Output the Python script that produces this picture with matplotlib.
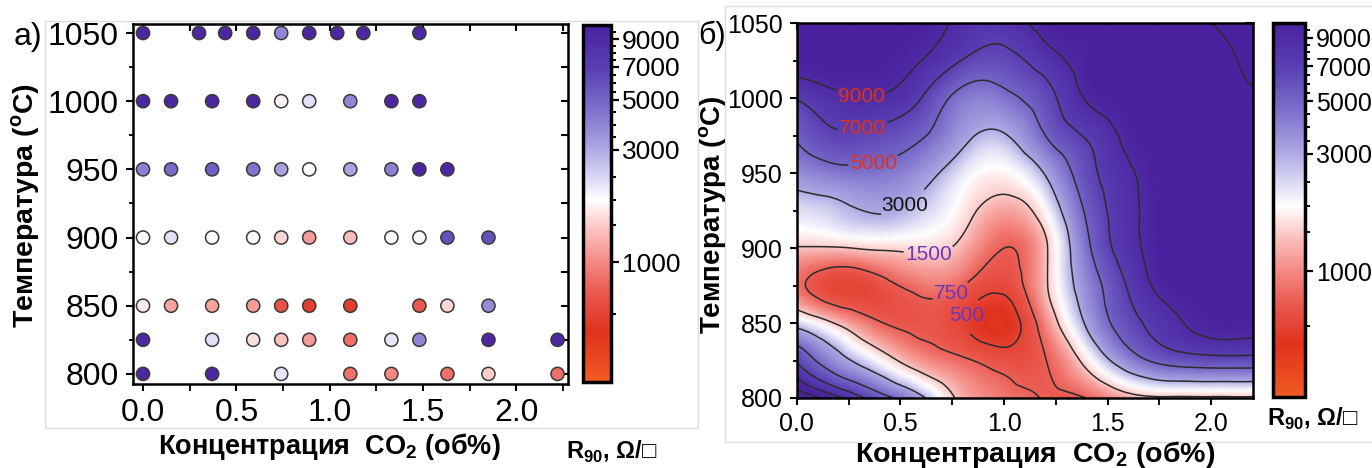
import numpy as np
import matplotlib
matplotlib.use('Agg')
import matplotlib.pyplot as plt
import matplotlib.tri as mtri
from matplotlib.colors import LinearSegmentedColormap, FuncNorm
from matplotlib.cm import ScalarMappable
from matplotlib.ticker import MultipleLocator, FixedLocator
from matplotlib.patches import Rectangle

# ---- а) measured points: CO2 (vol%), temperature (C), R90 (Ohm/sq) ----
conc = [0.0, 0.30, 0.44, 0.59, 0.74, 0.89, 1.04, 1.18, 1.48,
        0.0, 0.15, 0.37, 0.59, 0.74, 0.89, 1.11, 1.33, 1.48,
        0.0, 0.15, 0.37, 0.59, 0.74, 0.89, 1.11, 1.33, 1.48, 1.63,
        0.0, 0.15, 0.37, 0.59, 0.74, 0.89, 1.11, 1.33, 1.48, 1.63, 1.85,
        0.0, 0.15, 0.37, 0.59, 0.74, 0.89, 1.11, 1.48, 1.63, 1.85,
        0.0, 0.37, 0.59, 0.74, 0.89, 1.11, 1.33, 1.48, 1.85, 2.22,
        0.0, 0.37, 0.74, 1.11, 1.33, 1.63, 1.85, 2.22]
temp = [1050]*9 + [1000]*9 + [950]*10 + [900]*11 + [850]*10 + [825]*10 + [800]*8
r90 = [9500, 9500, 9500, 9500, 4000, 9500, 9500, 9500, 9500,
       9500, 9500, 9500, 9500, 1900, 2400, 4000, 9500, 9500,
       4200, 4800, 5200, 4500, 3200, 2000, 3200, 4200, 9500, 9500,
       2050, 2400, 2100, 2050, 1600, 1150, 1400, 2050, 2050, 6000, 6000,
       1800, 1200, 1200, 1150, 650, 480, 480, 700, 1600, 3800,
       9500, 2400, 1700, 1450, 1150, 850, 2300, 4000, 9500, 9500,
       9500, 9500, 2300, 850, 1000, 850, 1500, 850]

# ---- б) fitted surface on a grid (rows = temperature) ----
grid_conc = [0.0, 0.2, 0.4, 0.6, 0.8, 1.0, 1.2, 1.4, 1.6, 1.8, 2.0, 2.2]
grid_temp = [800, 825, 850, 875, 900, 925, 950, 975, 1000, 1025, 1050]
grid_r90 = [
    [13000, 9500, 5800, 3300, 1300, 900, 730, 760, 1250, 1400, 1400, 1400],
    [6800, 3600, 2000, 1100, 800, 620, 740, 1800, 4000, 5700, 6200, 6200],
    [2500, 1400, 780, 660, 520, 400, 1000, 3200, 6200, 8400, 9800, 9800],
    [900, 520, 620, 880, 760, 560, 1400, 3900, 7200, 10000, 10500, 10500],
    [1450, 1450, 1600, 1650, 1300, 750, 1400, 4600, 8200, 10300, 10500, 10500],
    [2400, 2700, 3100, 2600, 1800, 1200, 2000, 5300, 8400, 10300, 10500, 10500],
    [3700, 4400, 4500, 3600, 2300, 1900, 3100, 6200, 8700, 10500, 10500, 10500],
    [5200, 6700, 6300, 5200, 3400, 2900, 5000, 7200, 9600, 10500, 10500, 10500],
    [7100, 8600, 8800, 7000, 4400, 4500, 6200, 9200, 10300, 10500, 10500, 10800],
    [10300, 10300, 10000, 9000, 6900, 6300, 8000, 9800, 10400, 10500, 10500, 11500],
    [10300, 10300, 10000, 10000, 8400, 8000, 9800, 10300, 10500, 10500, 11000, 12000],
]
levels_red = [5000, 7000, 9000]
levels_black = [3000]
levels_violet = [500, 750, 1500]
levels_plain = [11000]

# colour scale as drawn on the colour bars (value -> bar position)
scale_vals = [150, 500, 1000, 1500, 2000, 2500, 3000, 5000, 7000, 9000, 10000]
scale_pos = [0.0, 0.19, 0.335, 0.44, 0.51, 0.575, 0.65, 0.79, 0.883, 0.96, 1.0]
cbar_ticks = [1000, 3000, 5000, 7000, 9000]
cbar_minor = [500, 1500, 2000, 2500, 3500, 4000, 4500, 5500, 6000, 6500,
              7500, 8000, 8500, 9500]

cmap = LinearSegmentedColormap.from_list('rw_purple', [
    (0.00, '#f15a22'), (0.14, '#e0321d'), (0.25, '#ea5a50'), (0.34, '#f48c86'),
    (0.43, '#fac4c2'), (0.51, '#ffffff'), (0.58, '#d6d4f2'), (0.66, '#aaa4e2'),
    (0.77, '#7b6ecb'), (0.88, '#5a3fb3'), (1.00, '#4a229f')])

norm = FuncNorm((lambda v: np.interp(v, scale_vals, scale_pos),
                 lambda p: np.interp(p, scale_pos, scale_vals)),
                vmin=scale_vals[0], vmax=scale_vals[-1])

plt.rcParams['font.family'] = ['Liberation Sans', 'DejaVu Sans']
plt.rcParams['mathtext.fontset'] = 'custom'
plt.rcParams['mathtext.rm'] = 'Liberation Sans'
plt.rcParams['mathtext.bf'] = 'Liberation Sans:bold'

fig = plt.figure(figsize=(13.72, 4.68), dpi=100)

# light frames around the two panels
fig.add_artist(Rectangle((45/1372, 1-428/468), 653/1372, 407/468, transform=fig.transFigure,
                         fill=False, ec='#dcdcdc', lw=1))
fig.add_artist(Rectangle((725/1372, 1-442/468), 650/1372, 436/468, transform=fig.transFigure,
                         fill=False, ec='#dcdcdc', lw=1))

ax1 = fig.add_axes([0.0969, 0.1795, 0.3171, 0.7692])
cax1 = fig.add_axes([0.4249, 0.1838, 0.0204, 0.7628])
ax2 = fig.add_axes([0.5807, 0.1496, 0.3324, 0.8006])
cax2 = fig.add_axes([0.9276, 0.1524, 0.0235, 0.7991])

# ---------- panel а ----------
ax1.scatter(conc, temp, c=r90, cmap=cmap, norm=norm, s=90, edgecolors='#3a3a3a',
            linewidths=1.1, zorder=3, clip_on=False)
ax1.set_xlim(-0.054, 2.276)
ax1.set_ylim(792.6, 1056.6)

# ---------- panel б ----------
gx, gt = np.meshgrid(grid_conc, grid_temp)
dc = grid_conc[1] - grid_conc[0]
dt = grid_temp[1] - grid_temp[0]
nt, nc = gx.shape
idx = np.arange(nt * nc).reshape(nt, nc)
a, b = idx[:-1, :-1].ravel(), idx[:-1, 1:].ravel()
c, d = idx[1:, 1:].ravel(), idx[1:, :-1].ravel()
tris = np.concatenate([np.column_stack([a, b, c]), np.column_stack([a, c, d])])
tri = mtri.Triangulation(gx.ravel() / dc, (gt.ravel() - grid_temp[0]) / dt, tris)
tri_f, logr_f = mtri.UniformTriRefiner(tri).refine_field(
    np.log10(np.array(grid_r90, dtype=float)).ravel(), subdiv=4)
tri_d = mtri.Triangulation(tri_f.x * dc, tri_f.y * dt + grid_temp[0], tri_f.triangles)
r_f = 10 ** logr_f

ax2.tripcolor(tri_d, r_f, shading='gouraud', cmap=cmap, norm=norm, rasterized=True)
line_kw = dict(colors='#2c2c2c', linewidths=1.1)
cs_red = ax2.tricontour(tri_d, r_f, levels=levels_red, **line_kw)
cs_black = ax2.tricontour(tri_d, r_f, levels=levels_black, **line_kw)
cs_violet = ax2.tricontour(tri_d, r_f, levels=levels_violet, **line_kw)
ax2.tricontour(tri_d, r_f, levels=levels_plain, **line_kw)
labels = []
labels += ax2.clabel(cs_red, colors='#e0321c', fontsize=15, fmt='%d',
                     manual=[(0.31, 1000), (0.32, 978), (0.37, 957)], inline_spacing=2)
labels += ax2.clabel(cs_black, colors='#111111', fontsize=15, fmt='%d',
                     manual=[(0.56, 920)], inline_spacing=2)
labels += ax2.clabel(cs_violet, colors='#6a38b8', fontsize=15, fmt='%d',
                     manual=[(0.64, 890), (0.76, 866), (0.86, 853)], inline_spacing=2)
for t in labels:
    t.set_rotation(0)
ax2.set_xlim(0, 2.2)
ax2.set_ylim(800, 1050)

# ---------- axes styling ----------
for ax, lsize in [(ax1, 23), (ax2, 18)]:
    ax.xaxis.set_major_locator(MultipleLocator(0.5))
    ax.xaxis.set_minor_locator(MultipleLocator(0.25))
    ax.yaxis.set_major_locator(MultipleLocator(50))
    ax.yaxis.set_minor_locator(MultipleLocator(25))
    ax.tick_params(which='major', direction='out', length=5, width=1.5,
                   labelsize=lsize, pad=5)
    ax.tick_params(which='minor', direction='out', length=3, width=1.3)
    ax.tick_params(axis='x', which='minor', length=5)
    for sp in ax.spines.values():
        sp.set_linewidth(1.8)
    top = ax.secondary_xaxis('top')
    top.xaxis.set_major_locator(MultipleLocator(0.25))
    top.tick_params(direction='in', length=5, width=1.5, labeltop=False)
    right = ax.secondary_yaxis('right')
    right.yaxis.set_major_locator(MultipleLocator(25))
    right.tick_params(direction='in', length=5, width=1.5, labelright=False)

for cax, lsize in [(cax1, 19), (cax2, 18)]:
    cb = fig.colorbar(ScalarMappable(norm=norm, cmap=cmap), cax=cax)
    cb.set_ticks(cbar_ticks, labels=[str(t) for t in cbar_ticks])
    cb.outline.set_linewidth(2.5)
    cb.ax.tick_params(which='major', length=6, width=1.6, labelsize=lsize, pad=2)
    cb.ax.yaxis.set_minor_locator(FixedLocator(cbar_minor))
    cb.ax.tick_params(which='minor', length=3.5, width=1.4)

# ---------- texts ----------
ylab = r'Температура ($^{\mathbf{o}}$C)'
xlab = r'Концентрация  CO$_\mathbf{2}$ (об%)'
fig.text(26/1372, 1-205/468, ylab, rotation=90, ha='center', va='center',
         fontsize=20.5, fontweight='bold')
fig.text(329/1372, 1-447/468, xlab, ha='center', va='center', fontsize=19.5, fontweight='bold')
fig.text(713/1372, 1-215/468, ylab, rotation=90, ha='center', va='center',
         fontsize=20, fontweight='bold')
fig.text(1035/1372, 1-455/468, xlab, ha='center', va='center', fontsize=20.5, fontweight='bold')
fig.text(28/1372, 1-37/468, 'а)', ha='center', va='center', fontsize=23)
fig.text(712/1372, 1-36/468, 'б)', ha='center', va='center', fontsize=22)
cb_lab = r'R$_\mathbf{90}$, Ω/□'
fig.text(612/1372, 1-452/468, cb_lab, ha='center', va='center', fontsize=17,
         fontweight='bold', family=['Liberation Sans', 'DejaVu Sans'])
fig.text(1313/1372, 1-419/468, cb_lab, ha='center', va='center', fontsize=17,
         fontweight='bold', family=['Liberation Sans', 'DejaVu Sans'])

fig.savefig('out.png', dpi=100)
